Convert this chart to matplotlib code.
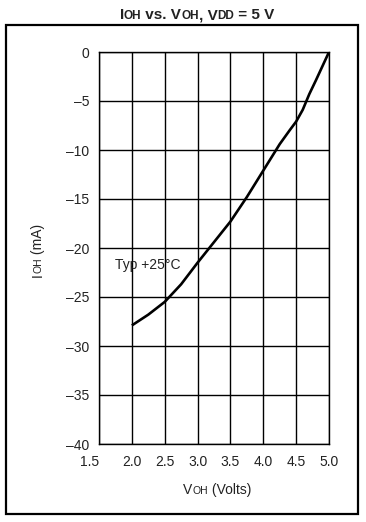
import matplotlib.pyplot as plt
from matplotlib.patches import Rectangle
from matplotlib.offsetbox import TextArea, HPacker, AnchoredOffsetbox

plt.rcParams['font.family'] = ['Liberation Sans', 'DejaVu Sans']

# IOH vs VOH, typ +25C
voh = [2.0, 2.25, 2.5, 2.75, 3.0, 3.25, 3.5, 3.75, 4.0, 4.25, 4.4, 4.5, 4.6, 4.7, 4.8, 5.0]
ioh = [-27.9, -26.8, -25.5, -23.7, -21.5, -19.4, -17.3, -14.8, -12.1, -9.4,
       -8.0, -7.1, -5.9, -4.3, -2.9, 0.0]

x_ticks = [1.5, 2.0, 2.5, 3.0, 3.5, 4.0, 4.5, 5.0]
y_ticks = [0, -5, -10, -15, -20, -25, -30, -35, -40]

W, H = 366, 522
fig = plt.figure(figsize=(W / 100, H / 100), dpi=100)
ax = fig.add_axes([99 / W, 1 - 444 / H, 230 / W, 392 / H])

ax.plot(voh, ioh, color='black', lw=1.9, solid_capstyle='butt', solid_joinstyle='round')
ax.set_xlim(1.5, 5.0)
ax.set_ylim(-40, 0)
ax.set_xticks(x_ticks)
ax.set_xticklabels([f"{v:.1f}" for v in x_ticks])
ax.set_yticks(y_ticks)
ax.set_yticklabels([str(v).replace('-', '\u2013') for v in y_ticks])
ax.tick_params(length=0, labelsize=10, colors='#222222')
ax.tick_params(axis='x', pad=8)
ax.tick_params(axis='y', pad=7)
ax.get_xticklabels()[0].set_horizontalalignment('right')
ax.grid(True, color='black', lw=1.0)
for s in ax.spines.values():
    s.set_linewidth(1.0)

ax.text(1.74, -21.7, "Typ +25\u00b0C", fontsize=10, va='center', ha='left',
        color='#222222')

# outer frame
fig.patches.append(Rectangle((6 / W, 1 - 514 / H), 352 / W, 489 / H,
                             transform=fig.transFigure, fill=False,
                             lw=1.6, edgecolor='black'))


def mixed(parts, bold=False):
    boxes = [TextArea(t, textprops=dict(fontsize=s, fontweight='bold' if bold else 'normal',
                                        color='#222222')) for t, s in parts]
    return HPacker(children=boxes, align='baseline', pad=0, sep=0)


title = mixed([("I", 11), ("OH", 8.5), (" vs. V", 11), ("OH", 8.5), (", V", 11),
               ("DD", 8.5), (" = 5 V", 11)], bold=True)
fig.add_artist(AnchoredOffsetbox(loc='center', child=title, frameon=False,
                                 bbox_to_anchor=(197 / W, 1 - 15 / H),
                                 bbox_transform=fig.transFigure, pad=0, borderpad=0))

xlab = mixed([("V", 10), ("OH", 7.5), (" (Volts)", 10)])
fig.add_artist(AnchoredOffsetbox(loc='center', child=xlab, frameon=False,
                                 bbox_to_anchor=(217 / W, 1 - 490 / H),
                                 bbox_transform=fig.transFigure, pad=0, borderpad=0))

# rotated y label with small caps, built piece by piece from the bottom
renderer = fig.canvas.get_renderer()
ypos = H - 277
for t, s in [("I", 10), ("OH", 7.5), (" (mA)", 10)]:
    txt = fig.text(42 / W, ypos / H, t, rotation=90, rotation_mode='anchor',
                   ha='left', va='baseline', fontsize=s, color='#222222')
    bb = txt.get_window_extent(renderer)
    ypos += bb.height

fig.savefig("out.png", dpi=100)
